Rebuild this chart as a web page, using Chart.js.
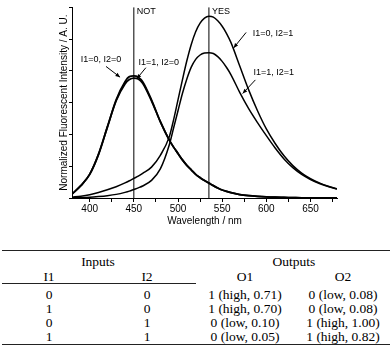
<!DOCTYPE html>
<html>
<head>
<meta charset="utf-8">
<script src="https://cdn.jsdelivr.net/npm/chart.js@4.4.0/dist/chart.umd.min.js"></script>
<style>
  body { margin: 0; background: #fff; }
  #wrap { position: relative; width: 392px; height: 345px; }
  #chart { position: absolute; left: 0; top: 0; }
  .cell { position: absolute; width: 98px; height: 14px; line-height: 14px; text-align: center;
          font-family: "Liberation Serif", "Times New Roman", serif; font-size: 13.5px; color: #000; white-space: nowrap; }
  .rule { position: absolute; background: #222; }
</style>
</head>
<body>
<div id="wrap">
  <canvas id="chart" width="392" height="228"></canvas>
  <div id="table"></div>
</div>
<script>
// spectra (normalized intensity)
const wavelength = [380, 390, 400, 410, 420, 430, 440, 445, 450, 455, 460, 470, 480, 490, 495, 500, 505, 510, 515, 520,
                    525, 530, 535, 540, 545, 550, 555, 560, 570, 580, 590, 600, 610, 620, 630, 640, 650, 660, 670, 680];
const i00 = [0.022, 0.068, 0.13, 0.24, 0.39, 0.54, 0.64, 0.668, 0.672, 0.665, 0.64, 0.54, 0.42, 0.32, 0.28, 0.245, 0.21, 0.18, 0.155, 0.13,
             0.112, 0.096, 0.082, 0.068, 0.055, 0.044, 0.036, 0.029, 0.019, 0.013, 0.009, 0.006, 0.004, 0.003, 0.002, 0.001, 0.001, 0, 0, 0];
const i10 = [0.022, 0.068, 0.13, 0.24, 0.39, 0.535, 0.628, 0.652, 0.66, 0.655, 0.632, 0.535, 0.42, 0.32, 0.28, 0.245, 0.21, 0.18, 0.155, 0.13,
             0.112, 0.096, 0.082, 0.068, 0.055, 0.044, 0.036, 0.029, 0.019, 0.013, 0.009, 0.006, 0.004, 0.003, 0.002, 0.001, 0.001, 0, 0, 0];
const i01 = [0.005, 0.01, 0.018, 0.03, 0.045, 0.062, 0.083, 0.095, 0.108, 0.12, 0.135, 0.17, 0.235, 0.335, 0.43, 0.54, 0.65, 0.755, 0.845, 0.915,
             0.962, 0.99, 1.0, 0.995, 0.975, 0.945, 0.905, 0.855, 0.725, 0.595, 0.48, 0.38, 0.3, 0.232, 0.178, 0.137, 0.106, 0.083, 0.065, 0.051];
const i11 = [0.001, 0.002, 0.004, 0.008, 0.013, 0.02, 0.031, 0.038, 0.047, 0.056, 0.066, 0.097, 0.16, 0.29, 0.385, 0.48, 0.575, 0.655, 0.72, 0.763,
             0.787, 0.798, 0.8, 0.795, 0.778, 0.752, 0.718, 0.678, 0.58, 0.492, 0.415, 0.343, 0.275, 0.215, 0.167, 0.13, 0.102, 0.08, 0.063, 0.05];

// axis ticks: labelled every 50 nm, marks every 25 nm; y has unlabelled marks only
const xTicks = [400, 425, 450, 475, 500, 525, 550, 575, 600, 625, 650, 675];
const xLabels = [400, 450, 500, 550, 600, 650];
const yTicks = [0, 0.0875, 0.175, 0.2625, 0.35, 0.4375, 0.525, 0.6125, 0.7, 0.7875, 0.875, 0.9625, 1.05];

const markers = [450, 535];
const markerLabels = ['NOT', 'YES'];

// truth table
const headTop = ['Inputs', 'Outputs'];
const headCols = ['I1', 'I2', 'O1', 'O2'];
const inI1 = ['0', '1', '0', '1'];
const inI2 = ['0', '0', '1', '1'];
const outO1 = ['1 (high, 0.71)', '1 (high, 0.70)', '0 (low, 0.10)', '0 (low, 0.05)'];
const outO2 = ['0 (low, 0.08)', '0 (low, 0.08)', '1 (high, 1.00)', '1 (high, 0.82)'];

// curve labels with arrows, placed in data units
const notes = [
  { text: 'I1=0, I2=0', at: [389.8, 0.76], from: [418.5, 0.724], to: [434.4, 0.665] },
  { text: 'I1=1, I2=0', at: [455.2, 0.747], from: [463.6, 0.717], to: [453.3, 0.656] },
  { text: 'I1=0, I2=1', at: [584.6, 0.907], from: [577.1, 0.911], to: [563, 0.826] },
  { text: 'I1=1, I2=1', at: [585.4, 0.692], from: [587.6, 0.65], to: [573.2, 0.575] }
];

function pts(ys) {
  return wavelength.map((w, i) => ({ x: w, y: ys[i] }));
}

const annotate = {
  id: 'annotate',
  afterDatasetsDraw(chart) {
    const ctx = chart.ctx, x = chart.scales.x, y = chart.scales.y;
    ctx.save();
    ctx.fillStyle = '#000';
    ctx.strokeStyle = '#000';
    ctx.font = '9px "Liberation Sans", Arial, sans-serif';
    ctx.textBaseline = 'middle';
    ctx.textAlign = 'left';
    markers.forEach((m, i) => {
      ctx.fillText(markerLabels[i], x.getPixelForValue(m) + 3, chart.chartArea.top + 4);
    });
    notes.forEach(n => {
      ctx.fillText(n.text, x.getPixelForValue(n.at[0]), y.getPixelForValue(n.at[1]));
      const x1 = x.getPixelForValue(n.from[0]), y1 = y.getPixelForValue(n.from[1]);
      const x2 = x.getPixelForValue(n.to[0]), y2 = y.getPixelForValue(n.to[1]);
      ctx.lineWidth = 1;
      ctx.beginPath();
      ctx.moveTo(x1, y1);
      ctx.lineTo(x2, y2);
      ctx.stroke();
      const a = Math.atan2(y2 - y1, x2 - x1);
      ctx.beginPath();
      ctx.moveTo(x2, y2);
      ctx.lineTo(x2 - 5 * Math.cos(a - 0.4), y2 - 5 * Math.sin(a - 0.4));
      ctx.lineTo(x2 - 5 * Math.cos(a + 0.4), y2 - 5 * Math.sin(a + 0.4));
      ctx.closePath();
      ctx.fill();
    });
    ctx.restore();
  }
};

Chart.defaults.font.family = '"Liberation Sans", Arial, sans-serif';
Chart.defaults.color = '#000';

const curve = (ys, w) => ({
  data: pts(ys), borderColor: '#000', borderWidth: w, pointRadius: 0, cubicInterpolationMode: 'monotone', fill: false
});

new Chart(document.getElementById('chart'), {
  type: 'line',
  data: {
    datasets: [
      ...markers.map(m => ({ data: [{ x: m, y: 0 }, { x: m, y: 1.05 }], borderColor: '#000', borderWidth: 1, pointRadius: 0 })),
      curve(i00, 1.8),
      curve(i10, 1.8),
      curve(i01, 1.5),
      curve(i11, 1.5)
    ]
  },
  options: {
    responsive: false,
    animation: false,
    layout: { padding: { left: 59, right: 55, top: 3, bottom: 2 } },
    plugins: { legend: { display: false }, tooltip: { enabled: false } },
    scales: {
      x: {
        type: 'linear', min: 380, max: 680,
        border: { display: true, color: '#000', width: 1 },
        grid: { drawOnChartArea: false, drawTicks: true, tickLength: 4, color: '#000' },
        ticks: {
          autoSkip: false, maxRotation: 0, padding: 1, font: { size: 10 },
          callback: v => (xLabels.includes(v) ? String(v) : '')
        },
        afterBuildTicks: s => { s.ticks = xTicks.map(v => ({ value: v })); },
        title: { display: true, text: 'Wavelength / nm', font: { size: 10, lineHeight: 1 }, padding: 0 }
      },
      y: {
        type: 'linear', min: 0, max: 1.05,
        border: { display: true, color: '#000', width: 1 },
        grid: { drawOnChartArea: false, drawTicks: true, tickLength: 3, color: '#000' },
        ticks: { display: true, padding: 0, callback: () => '' },
        afterBuildTicks: s => { s.ticks = yTicks.map(v => ({ value: v })); },
        title: { display: true, text: 'Normalized Fluorescent Intensity / A. U.', font: { size: 10, lineHeight: 1 }, padding: 0 }
      }
    }
  },
  plugins: [annotate]
});

// table below the chart
const table = document.getElementById('table');
function cell(text, cx, cy, w) {
  const d = document.createElement('div');
  d.className = 'cell';
  d.textContent = text;
  d.style.width = w + 'px';
  d.style.left = (cx - w / 2) + 'px';
  d.style.top = (cy - 7) + 'px';
  table.appendChild(d);
}
function rule(x, y, w, h) {
  const d = document.createElement('div');
  d.className = 'rule';
  d.style.left = x + 'px';
  d.style.top = y + 'px';
  d.style.width = w + 'px';
  d.style.height = h + 'px';
  table.appendChild(d);
}
const colX = [49, 147, 245, 343];
const rowY = [294.5, 308.5, 322.5, 336.5];
rule(2, 249.5, 388, 1);
cell(headTop[0], 98, 261.5, 196);
cell(headTop[1], 294, 261.5, 196);
headCols.forEach((h, i) => cell(h, colX[i], 276.5, 98));
rule(2, 283, 194, 0.6);
[inI1, inI2, outO1, outO2].forEach((col, c) => col.forEach((t, r) => cell(t, colX[c], rowY[r], 98)));
rule(2, 343.5, 388, 1.2);
</script>
</body>
</html>
